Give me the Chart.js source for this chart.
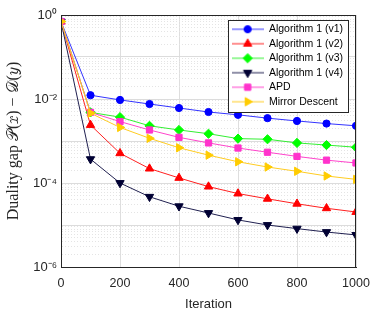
<!DOCTYPE html>
<html>
<head>
<meta charset="utf-8">
<script src="https://cdn.jsdelivr.net/npm/chart.js@4.4.1/dist/chart.umd.min.js"></script>
<style>
html,body{margin:0;padding:0;background:#fff;}
#wrap{width:374px;height:316px;position:relative;}
</style>
</head>
<body>
<div id="wrap"><canvas id="c" width="374" height="316"></canvas></div>
<script>
const iterations = [0, 100, 200, 300, 400, 500, 600, 700, 800, 900, 1000];
const seriesNames = ['Algorithm 1 (v1)', 'Algorithm 1 (v2)', 'Algorithm 1 (v3)', 'Algorithm 1 (v4)', 'APD', 'Mirror Descent'];
const v1 = [0.7, 0.0123, 0.0095, 0.0076, 0.0061, 0.0049, 0.0042, 0.0035, 0.0030, 0.0026, 0.0023];
const v2 = [0.7, 0.0024, 0.00051, 0.00022, 0.000132, 0.000082, 0.000056, 0.000042, 0.000032, 0.000025, 0.0000204];
const v3 = [0.7, 0.0048, 0.0037, 0.0023, 0.00183, 0.00149, 0.00114, 0.0011, 0.0009, 0.0008, 0.00071];
const v4 = [0.7, 0.00037, 0.0001, 0.000047, 0.000028, 0.0000193, 0.0000132, 0.00001, 0.0000082, 0.0000068, 0.0000058];
const apd = [0.7, 0.0048, 0.0029, 0.00183, 0.00122, 0.0009, 0.00068, 0.00054, 0.00043, 0.00035, 0.0003];
const mirrorDescent = [0.7, 0.0046, 0.0021, 0.00116, 0.00069, 0.00046, 0.00032, 0.00024, 0.00019, 0.000147, 0.000122];
const xTicks = [0, 200, 400, 600, 800, 1000];
const yLabelExps = [0, -2, -4, -6];
const supMap = {'-':'\u207B','0':'\u2070','1':'\u00B9','2':'\u00B2','3':'\u00B3','4':'\u2074','5':'\u2075','6':'\u2076','7':'\u2077','8':'\u2078','9':'\u2079'};

const allSeries = [v1, v2, v3, v4, apd, mirrorDescent];
const styles = [
  {color:'#0000ff', line:'#3333ff', ps:'circle', r:3.6, rot:0},
  {color:'#ff0000', line:'#ff2020', ps:'triangle', r:4.8, rot:0},
  {color:'#00ff00', line:'#33ee33', ps:'rectRot', r:4.6, rot:0},
  {color:'#000033', line:'#202050', ps:'triangle', r:4.8, rot:180},
  {color:'#ff33cc', line:'#ff44cc', ps:'rect', r:4.4, rot:0},
  {color:'#ffcc00', line:'#ffcc22', ps:'triangle', r:4.8, rot:90}
];

function legendIcon(st){
  const cv = document.createElement('canvas');
  cv.width = 32; cv.height = 12;
  const g = cv.getContext('2d');
  g.strokeStyle = st.line; g.lineWidth = 1;
  g.beginPath(); g.moveTo(0, 6); g.lineTo(32, 6); g.stroke();
  g.fillStyle = st.color; g.strokeStyle = st.color;
  Chart.helpers.drawPoint(g, {pointStyle: st.ps, radius: st.r, rotation: st.rot, borderWidth: 1}, 16, 6);
  return cv;
}

const datasets = allSeries.map((arr, i) => ({
  label: seriesNames[i],
  data: iterations.map((x, k) => ({x: x, y: arr[k]})),
  borderColor: styles[i].line,
  backgroundColor: styles[i].color,
  pointBackgroundColor: styles[i].color,
  pointBorderColor: styles[i].color,
  pointStyle: styles[i].ps,
  pointRadius: styles[i].r,
  pointRotation: styles[i].rot,
  borderWidth: 1,
  tension: 0,
  order: allSeries.length - 1 - i
}));

const legendBoxPlugin = {
  id: 'legendBox',
  afterLayout(chart){
    const lg = chart.legend, ca = chart.chartArea;
    if (!lg) return;
    const hb = lg.legendHitBoxes;
    const pad = lg.options.labels.padding;
    let h = lg.height, w = lg.width;
    if (hb && hb.length) {
      h = (hb[hb.length - 1].top + hb[hb.length - 1].height) - hb[0].top + 2 * pad + 1;
      w = Math.max.apply(null, hb.map(b => b.width)) + 2 * pad + 1;
    }
    lg.width = w;
    lg.height = h;
    lg.left = ca.right - w - 8;
    lg.right = lg.left + w;
    lg.top = ca.top + 5;
    lg.bottom = lg.top + h;
  },
  afterDatasetsDraw(chart){
    const lg = chart.legend, ctx = chart.ctx;
    ctx.save();
    ctx.fillStyle = '#ffffff';
    ctx.strokeStyle = '#262626';
    ctx.lineWidth = 1;
    const x = Math.round(lg.left) + 0.5, y = Math.round(lg.top) + 0.5;
    ctx.fillRect(x, y, Math.round(lg.width), Math.round(lg.height));
    ctx.strokeRect(x, y, Math.round(lg.width), Math.round(lg.height));
    ctx.restore();
    lg.draw();
    const ca = chart.chartArea;
    ctx.save();
    ctx.strokeStyle = '#262626';
    ctx.lineWidth = 1;
    ctx.strokeRect(Math.round(ca.left) + 0.5, Math.round(ca.top) + 0.5, Math.round(ca.right - ca.left) - 1, Math.round(ca.bottom - ca.top));
    ctx.restore();
  }
};

const isMajor = v => Math.abs(Math.log10(v) - Math.round(Math.log10(v))) < 1e-6;

new Chart(document.getElementById('c'), {
  type: 'line',
  data: { datasets: datasets },
  plugins: [legendBoxPlugin],
  options: {
    responsive: false,
    animation: false,
    devicePixelRatio: 1,
    layout: { padding: { top: 15, right: 18, left: 0, bottom: 0 } },
    plugins: {
      tooltip: { enabled: false },
      legend: {
        position: 'chartArea',
        align: 'start',
        labels: {
          usePointStyle: true,
          pointStyleWidth: 32,
          boxHeight: 10,
          padding: 4,
          color: '#000000',
          font: { family: 'Liberation Sans', size: 10.5 },
          generateLabels(chart){
            const items = Chart.defaults.plugins.legend.labels.generateLabels(chart);
            items.sort((a, b) => a.datasetIndex - b.datasetIndex);
            items.forEach(it => { it.pointStyle = legendIcon(styles[it.datasetIndex]); it.rotation = 0; });
            return items;
          }
        }
      }
    },
    scales: {
      x: {
        type: 'linear',
        min: 0, max: 1000,
        afterFit(s){ s.height = 49; s.paddingRight = 0; s.paddingLeft = 0; },
        afterBuildTicks(s){ s.ticks = xTicks.map(v => ({value: v})); },
        ticks: { color: '#262626', font: { family: 'Liberation Sans', size: 12.5 }, padding: 9, maxRotation: 0, autoSkip: false, callback: v => String(v) },
        grid: { color: '#dedede', drawTicks: false },
        border: { color: '#262626' },
        title: { display: true, text: 'Iteration', color: '#262626', font: { family: 'Liberation Sans', size: 13 }, padding: { top: 1 } }
      },
      y: {
        type: 'logarithmic',
        min: 1e-6, max: 1,
        afterFit(s){ s.width = 61; },
        afterBuildTicks(s){
          const t = [];
          for (let e = -6; e <= 0; e++) {
            for (let m = 1; m <= 9; m++) {
              const v = m * Math.pow(10, e);
              if (v > 1.0000001) break;
              t.push({value: v, major: m === 1});
            }
          }
          s.ticks = t;
        },
        ticks: {
          autoSkip: false,
          color: '#262626',
          font: { family: 'Liberation Sans', size: 13 },
          padding: 4,
          callback(v){
            const e = Math.round(Math.log10(v));
            if (!isMajor(v) || yLabelExps.indexOf(e) < 0) return '';
            return '10' + String(e).split('').map(ch => supMap[ch]).join('');
          }
        },
        grid: {
          drawTicks: false,
          color: ctx => (ctx.tick && isMajor(ctx.tick.value)) ? '#dcdcdc' : '#e4e4e4'
        },
        border: {
          color: '#262626',
          dash: ctx => (ctx.tick && isMajor(ctx.tick.value)) ? [] : [1, 2]
        },
        title: { display: true, text: 'Duality gap \u{1D4AB}(\u{1D465}) \u2212 \u{1D49F}(\u{1D466})', color: '#262626', font: { family: 'Liberation Serif', size: 16 }, padding: { bottom: 0, top: 4 } }
      }
    }
  }
});
</script>
</body>
</html>
